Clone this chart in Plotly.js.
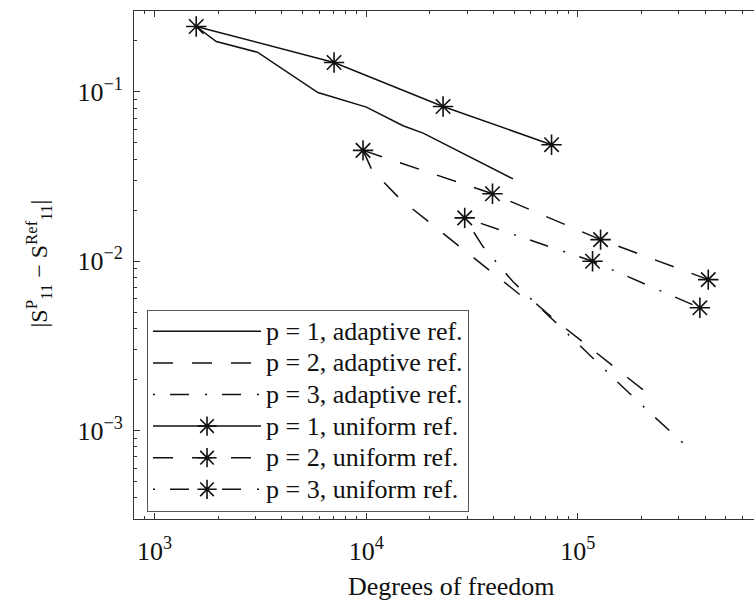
<!DOCTYPE html>
<html>
<head>
<meta charset="utf-8">
<script src="https://cdn.plot.ly/plotly-3.0.1.min.js"></script>
<style>html,body{margin:0;padding:0;overflow:hidden;background:#fff;}</style>
</head>
<body>
<div id="chart" style="width:754px;height:601px;"></div>
<script>
// Degrees of freedom (x) and |S11^P - S11^Ref| (y)
const dof_p1_adapt = [1574, 1958, 3076, 5914, 10020, 14930, 18580, 49400];
const err_p1_adapt = [0.243, 0.198, 0.171, 0.099, 0.0812, 0.063, 0.0570, 0.0306];

const dof_p2_adapt = [9660, 10620, 14390, 19950, 53200, 62700, 75300, 207600];
const err_p2_adapt = [0.0451, 0.0347, 0.0234, 0.01687, 0.00634, 0.00569, 0.00465, 0.00170];

const dof_p3_adapt = [29200, 35600, 49300, 72100, 104500, 152800, 223900, 327000];
const err_p3_adapt = [0.0180, 0.01219, 0.00757, 0.00483, 0.00309, 0.00195, 0.00124, 0.000805];

const dof_p1_unif = [1574, 7050, 23070, 75100];
const err_p1_unif = [0.243, 0.149, 0.0819, 0.0487];

const dof_p2_unif = [9660, 39500, 128000, 413000];
const err_p2_unif = [0.0451, 0.0250, 0.01339, 0.00778];

const dof_p3_unif = [29200, 117300, 377000];
const err_p3_unif = [0.0180, 0.00998, 0.00530];

const names = [
  'p = 1, adaptive ref.', 'p = 2, adaptive ref.', 'p = 3, adaptive ref.',
  'p = 1, uniform ref.', 'p = 2, uniform ref.', 'p = 3, uniform ref.'
];

// Tick labels
const xTickVals = [1e3, 1e4, 1e5];
const xTickText = ['10<sup>3</sup>', '10<sup>4</sup>', '10<sup>5</sup>'];
const yTickVals = [1e-3, 1e-2, 1e-1];
const yTickText = ['10<sup>\u22123</sup>', '10<sup>\u22122</sup>', '10<sup>\u22121</sup>'];

const xTitle = 'Degrees of freedom';
const yTitle = '|S<sup>P</sup><sub>11</sub> \u2212 S<sup>Ref</sup><sub>11</sub>|';

// minor tick positions (2..9 in each decade)
function minorTicks(lo, hi) {
  const out = [];
  for (let e = lo; e <= hi; e++) for (let k = 2; k <= 9; k++) out.push(k * Math.pow(10, e));
  return out;
}

const DASH = '20px,19px';
const DASHDOT = '2px,15px,19px,16px';
const FONT = 'Liberation Serif, Times New Roman, serif';

function tr(x, y, name, dash, marker) {
  const t = {
    x: x, y: y, type: 'scatter',
    name: '<span style="font-size:26px">' + name + '</span>',
    mode: marker ? 'lines+markers' : 'lines',
    line: {color: '#111', width: 1.5, dash: dash}
  };
  if (marker) {
    t.marker = {symbol: 'asterisk-open', size: 17, color: '#111', line: {color: '#111', width: 1.6}};
  }
  return t;
}

const data = [
  tr(dof_p1_adapt, err_p1_adapt, names[0], 'solid', false),
  tr(dof_p2_adapt, err_p2_adapt, names[1], DASH, false),
  tr(dof_p3_adapt, err_p3_adapt, names[2], DASHDOT, false),
  tr(dof_p1_unif, err_p1_unif, names[3], 'solid', true),
  tr(dof_p2_unif, err_p2_unif, names[4], DASH, true),
  tr(dof_p3_unif, err_p3_unif, names[5], DASHDOT, true)
];

const layout = {
  width: 754, height: 601,
  margin: {l: 134, r: 0, t: 11, b: 82},
  paper_bgcolor: '#fff', plot_bgcolor: '#fff',
  font: {family: FONT, size: 26, color: '#111'},
  showlegend: true,
  legend: {
    x: 0.021, y: 0.4124, xanchor: 'left', yanchor: 'top',
    bgcolor: '#fff', bordercolor: '#555', borderwidth: 1,
    font: {family: FONT, size: 22, color: '#111'},
    itemwidth: 108, tracegroupgap: 0
  },
  xaxis: {
    type: 'log', range: [Math.log10(800), 5.832],
    tickmode: 'array', tickvals: xTickVals, ticktext: xTickText,
    ticks: 'inside', ticklen: 6, tickcolor: '#333', tickwidth: 1,
    minor: {tickmode: 'array', tickvals: minorTicks(2, 5), ticks: 'inside', ticklen: 3, tickcolor: '#333', showgrid: false},
    showline: true, linecolor: '#333', linewidth: 1, mirror: 'ticks',
    showgrid: false, zeroline: false,
    tickfont: {family: FONT, size: 26, color: '#111'},
    ticklabelstandoff: 9
  },
  yaxis: {
    type: 'log', range: [Math.log10(3e-4), Math.log10(0.3)],
    tickmode: 'array', tickvals: yTickVals, ticktext: yTickText,
    ticks: 'inside', ticklen: 6, tickcolor: '#333', tickwidth: 1,
    minor: {tickmode: 'array', tickvals: minorTicks(-4, -1), ticks: 'inside', ticklen: 3, tickcolor: '#333', showgrid: false},
    showline: true, linecolor: '#333', linewidth: 1, mirror: false,
    showgrid: false, zeroline: false,
    tickfont: {family: FONT, size: 26, color: '#111'},
    ticklabelstandoff: 5
  },
  annotations: [
    {text: xTitle, xref: 'paper', yref: 'paper', x: 0.512, y: -0.1319,
     xanchor: 'center', yanchor: 'middle', showarrow: false,
     font: {family: FONT, size: 26, color: '#111'}},
    {text: yTitle, xref: 'paper', yref: 'paper', x: -0.154, y: 0.502,
     xanchor: 'center', yanchor: 'middle', showarrow: false, textangle: -90,
     font: {family: FONT, size: 24, color: '#111'}}
  ]
};

Plotly.newPlot('chart', data, layout, {displayModeBar: false, staticPlot: true});
</script>
</body>
</html>
